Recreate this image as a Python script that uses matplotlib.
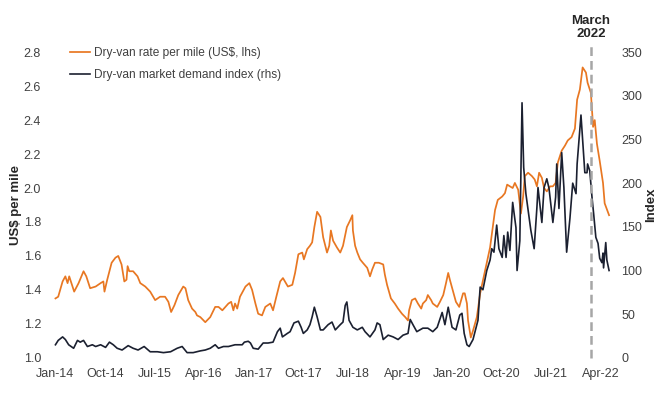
import numpy as np
import matplotlib.pyplot as plt

plt.rcParams['font.family'] = ['Liberation Sans', 'DejaVu Sans']

# months since Jan-2014, and dry-van rate per mile (US$, lhs)
rate_month = [0.0, 0.5, 1.3, 1.8, 2.2, 2.5, 3.1, 3.4, 4.2, 5.1, 5.6, 6.3, 7.3, 8.2, 8.7, 8.9,
              9.4, 10.2, 10.9, 11.4, 12.0, 12.5, 12.9, 13.1, 13.4, 14.1, 14.9, 15.4, 16.3, 17.2,
              18.1, 19.0, 19.9, 20.5, 21.0, 21.6, 22.3, 23.2, 23.6, 24.1, 24.8, 25.4, 25.7, 26.3,
              27.2, 28.1, 29.0, 29.6, 30.3, 31.4, 31.9, 32.3, 32.6, 33.0, 33.5, 34.5, 35.2, 35.7,
              36.3, 36.8, 37.5, 38.1, 39.0, 39.5, 40.1, 40.8, 41.3, 42.2, 43.0, 43.5, 44.1, 44.8,
              45.1, 45.7, 46.2, 46.6, 47.0, 47.5, 48.1, 48.6, 49.3, 49.7, 50.0, 50.4, 51.1, 51.7,
              52.2, 52.9, 53.5, 53.9, 54.0, 54.4, 54.8, 55.3, 55.8, 56.6, 57.1, 57.5, 58.0, 58.7,
              59.5, 59.8, 60.2, 60.9, 61.6, 62.2, 62.9, 63.5, 64.0, 64.2, 64.7, 65.3, 65.8, 66.4,
              66.7, 67.3, 67.6, 68.2, 68.5, 69.3, 69.8, 70.4, 70.9, 71.3, 71.6, 72.2, 72.7, 73.3,
              74.0, 74.3, 74.7, 74.9, 75.4, 75.8, 76.5, 77.1, 77.9, 78.9, 79.4, 79.8, 80.3, 81.1,
              81.6, 82.0, 82.5, 83.0, 83.4, 84.0, 84.5, 84.9, 85.2, 85.8, 86.5, 87.0, 87.4, 87.8,
              88.3, 88.7, 89.2, 89.8, 90.3, 90.8, 91.2, 91.9, 92.5, 93.0, 93.7, 94.3, 94.7, 95.2,
              95.7, 96.3, 96.6, 97.2, 97.6, 97.9, 98.3, 98.8, 99.4, 99.7, 100.5]
rate = [1.35, 1.36, 1.45, 1.48, 1.44, 1.48, 1.42, 1.39, 1.44, 1.51, 1.48, 1.41, 1.42, 1.44, 1.45, 1.39,
        1.46, 1.56, 1.59, 1.60, 1.55, 1.45, 1.46, 1.54, 1.51, 1.51, 1.48, 1.44, 1.42, 1.39,
        1.34, 1.36, 1.36, 1.33, 1.27, 1.31, 1.37, 1.42, 1.41, 1.34, 1.29, 1.27, 1.25, 1.24,
        1.21, 1.24, 1.30, 1.30, 1.28, 1.32, 1.33, 1.28, 1.32, 1.29, 1.36, 1.42, 1.44, 1.40,
        1.32, 1.26, 1.25, 1.30, 1.32, 1.28, 1.36, 1.45, 1.47, 1.42, 1.43, 1.50, 1.61, 1.62,
        1.58, 1.64, 1.66, 1.68, 1.77, 1.86, 1.83, 1.71, 1.62, 1.66, 1.75, 1.69, 1.65, 1.62,
        1.66, 1.77, 1.81, 1.84, 1.75, 1.66, 1.62, 1.58, 1.56, 1.53, 1.48, 1.52, 1.56, 1.56,
        1.55, 1.49, 1.43, 1.35, 1.32, 1.29, 1.26, 1.24, 1.22, 1.28, 1.34, 1.35, 1.32, 1.29,
        1.32, 1.34, 1.37, 1.34, 1.32, 1.30, 1.33, 1.37, 1.44, 1.50, 1.46, 1.39, 1.33, 1.30,
        1.38, 1.38, 1.32, 1.22, 1.12, 1.16, 1.24, 1.38, 1.50, 1.65, 1.77, 1.87, 1.93, 1.95,
        1.97, 2.02, 2.01, 2.00, 2.03, 1.99, 1.85, 1.95, 2.07, 2.09, 2.07, 2.05, 2.01, 2.09,
        2.06, 2.00, 1.98, 2.01, 2.01, 2.03, 2.15, 2.22, 2.25, 2.28, 2.30, 2.35, 2.52, 2.58,
        2.71, 2.68, 2.62, 2.56, 2.36, 2.40, 2.26, 2.16, 2.03, 1.91, 1.84]

# months since Jan-2014, and dry-van market demand index (rhs)
demand_month = [0.0, 0.5, 1.3, 1.8, 2.4, 3.3, 4.0, 4.5, 5.1, 5.8, 6.7, 7.3, 8.2, 9.1, 9.8, 10.5,
                11.2, 12.1, 13.2, 14.1, 15.0, 16.1, 17.2, 18.5, 19.6, 20.9, 22.1, 23.0, 23.9, 25.0,
                26.3, 27.2, 28.1, 29.0, 29.6, 30.5, 31.4, 32.6, 33.9, 34.3, 35.0, 35.4, 35.9, 36.8,
                37.7, 38.6, 39.5, 40.3, 40.8, 41.2, 42.1, 42.6, 43.3, 44.1, 44.6, 45.0, 45.7, 46.2,
                46.6, 47.0, 47.5, 48.1, 48.6, 49.5, 50.2, 50.8, 51.7, 52.2, 52.6, 52.9, 53.3, 54.0,
                54.8, 55.7, 56.2, 57.1, 58.0, 58.4, 58.9, 59.5, 60.4, 61.3, 62.2, 63.1, 64.0, 64.4,
                64.9, 65.6, 66.7, 67.6, 68.5, 69.3, 70.2, 70.7, 71.3, 72.0, 72.7, 73.4, 73.8, 74.2,
                74.7, 75.1, 75.8, 76.7, 77.1, 77.6, 78.3, 78.9, 79.2, 79.6, 80.1, 80.5, 81.1, 81.4,
                81.8, 82.1, 82.5, 83.0, 83.6, 83.8, 84.3, 84.7, 85.0, 85.4, 85.8, 86.3, 86.9, 87.4,
                87.6, 88.3, 88.7, 89.2, 89.6, 90.3, 90.8, 91.0, 91.4, 91.9, 92.3, 92.8, 93.4, 93.9,
                94.5, 94.7, 95.4, 95.7, 96.1, 96.5, 96.6, 97.0, 97.4, 97.7, 98.1, 98.5, 98.8, 99.2,
                99.4, 99.5, 99.9, 100.1, 100.5]
demand = [15, 20, 24, 21, 15, 11, 20, 18, 20, 13, 15, 13, 15, 12, 18, 15,
          11, 9, 14, 11, 9, 13, 7, 7, 6, 7, 11, 13, 6, 6,
          8, 9, 11, 15, 11, 13, 13, 15, 15, 18, 19, 17, 11, 10,
          17, 17, 18, 30, 34, 24, 28, 30, 40, 42, 35, 28, 32, 38,
          47, 58, 47, 32, 32, 38, 41, 32, 38, 41, 60, 64, 43, 35,
          32, 35, 30, 24, 32, 40, 38, 21, 26, 24, 21, 26, 28, 44,
          38, 30, 34, 34, 30, 35, 52, 38, 58, 35, 32, 49, 51, 28,
          15, 13, 21, 43, 81, 78, 100, 112, 125, 121, 152, 125, 115, 140,
          115, 144, 123, 178, 149, 100, 134, 292, 218, 188, 169, 146, 125, 172,
          195, 155, 195, 205, 194, 155, 184, 222, 171, 235, 195, 121, 160, 200,
          188, 222, 278, 249, 212, 212, 222, 214, 184, 165, 138, 131, 114, 109,
          120, 103, 132, 112, 100]

tick_months = [0, 9, 18, 27, 36, 45, 54, 63, 72, 81, 90, 99]
tick_labels = ['Jan-14', 'Oct-14', 'Jul-15', 'Apr-16', 'Jan-17', 'Oct-17',
               'Jul-18', 'Apr-19', 'Jan-20', 'Oct-20', 'Jul-21', 'Apr-22']
march_2022 = 97.2

orange = '#E87722'
navy = '#1B2030'
grey_txt = '#404040'

fig = plt.figure(figsize=(6.6, 3.95), dpi=100)
ax = fig.add_axes([0.079, 0.094, 0.848, 0.774])
ax2 = ax.twinx()

l1, = ax.plot(rate_month, rate, color=orange, lw=1.25,
              label='Dry-van rate per mile (US$, lhs)')
l2, = ax2.plot(demand_month, demand, color=navy, lw=1.2,
               label='Dry-van market demand index (rhs)')
ax2.axvline(march_2022, ymin=0, ymax=1.03, color='#A6A6A6', lw=1.8,
            ls=(0, (3.5, 2)), clip_on=False)
ax2.text(march_2022, 1.04, 'March\n2022', transform=ax2.get_xaxis_transform(),
         ha='center', va='bottom', fontsize=9.5, fontweight='bold',
         color='#262626', linespacing=1.1)

ax.set_xlim(-0.6, 101)
ax.set_ylim(1.0, 2.8)
ax2.set_ylim(0, 350)
ax.set_yticks(np.arange(1.0, 2.81, 0.2))
ax.set_yticklabels([f'{v:.1f}' for v in np.arange(1.0, 2.81, 0.2)])
ax2.set_yticks(range(0, 351, 50))
ax.set_xticks(tick_months)
ax.set_xticklabels(tick_labels)

for a in (ax, ax2):
    for s in a.spines.values():
        s.set_visible(False)
    a.tick_params(length=0, labelsize=9, labelcolor=grey_txt)
ax.tick_params(axis='y', pad=8)
ax.tick_params(axis='x', pad=7)
ax2.tick_params(axis='y', pad=7)

ax.set_ylabel('US$ per mile', fontsize=9.5, fontweight='bold', color='#262626', labelpad=1)
ax2.set_ylabel('Index', fontsize=9.5, fontweight='bold', color='#262626', labelpad=2)

ax2.legend(handles=[l1, l2], loc='upper left', bbox_to_anchor=(0.032, 1.016),
           frameon=False, fontsize=8.6, borderpad=0, borderaxespad=0,
           handlelength=1.7, handletextpad=0.3, labelspacing=0.85,
           labelcolor=grey_txt)

fig.savefig('out.png', dpi=100)
